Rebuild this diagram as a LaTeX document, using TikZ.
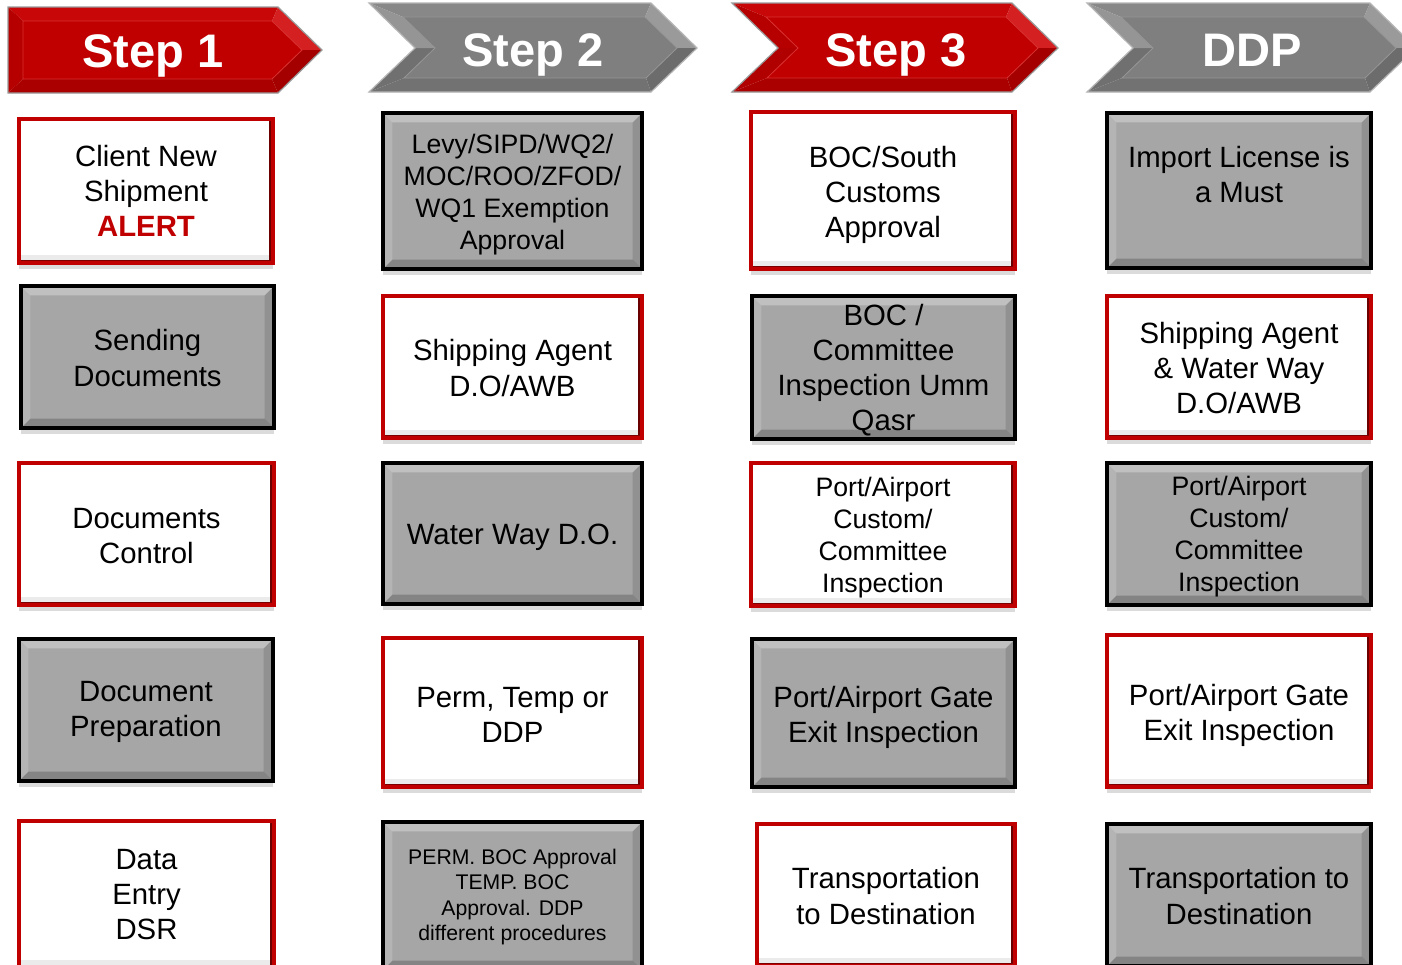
\documentclass[tikz,border=0pt]{standalone}
\usepackage{fontspec}
\setmainfont{Liberation Sans}
\usetikzlibrary{shadows}
\definecolor{boxred}{HTML}{C00000}
\definecolor{boxreddark}{HTML}{6A0000}
\definecolor{boxgray}{HTML}{A6A6A6}
\definecolor{alertred}{HTML}{C00000}
\definecolor{hrMain}{HTML}{C00000}
\definecolor{hrTop}{HTML}{C80808}
\definecolor{hrUR}{HTML}{D42020}
\definecolor{hrLR}{HTML}{A40000}
\definecolor{hrBot}{HTML}{AA0000}
\definecolor{hrLU}{HTML}{B60000}
\definecolor{hrLL}{HTML}{B00000}
\definecolor{hrEdge}{HTML}{D83030}
\definecolor{hrLine}{HTML}{9A9A9A}
\definecolor{hgMain}{HTML}{7F7F7F}
\definecolor{hgTop}{HTML}{888888}
\definecolor{hgUR}{HTML}{9A9A9A}
\definecolor{hgLR}{HTML}{6C6C6C}
\definecolor{hgBot}{HTML}{727272}
\definecolor{hgLU}{HTML}{959595}
\definecolor{hgLL}{HTML}{707070}
\definecolor{hgEdge}{HTML}{959595}
\definecolor{hgLine}{HTML}{B5B5B5}
\tikzset{
  boxbase/.style={rectangle, inner sep=0pt, outer sep=0pt,
    general shadow={fill=black!14, shadow yshift=-4.5pt}},
  redbox/.style={boxbase, fill=white, draw=boxred, line width=3.6pt,
    path picture={
      \fill[boxreddark] ([xshift=-3pt]path picture bounding box.north east) rectangle (path picture bounding box.south east);
      \fill[boxreddark!80!boxred] (path picture bounding box.south west) rectangle ([yshift=2.5pt]path picture bounding box.south east);
      \fill[black,opacity=.08] ([yshift=2.5pt]path picture bounding box.south west) rectangle ([shift={(-3pt,6pt)}]path picture bounding box.south east);
    }},
  graybox/.style={boxbase, fill=boxgray, draw=black, line width=3pt,
    path picture={
      \fill[white,opacity=.3] (path picture bounding box.north west) -- (path picture bounding box.north east) -- ([shift={(-7pt,-7pt)}]path picture bounding box.north east) -- ([shift={(7pt,-7pt)}]path picture bounding box.north west) -- cycle;
      \fill[white,opacity=.16] (path picture bounding box.north west) -- ([shift={(7pt,-7pt)}]path picture bounding box.north west) -- ([shift={(7pt,7pt)}]path picture bounding box.south west) -- (path picture bounding box.south west) -- cycle;
      \fill[black,opacity=.12] (path picture bounding box.north east) -- (path picture bounding box.south east) -- ([shift={(-7pt,7pt)}]path picture bounding box.south east) -- ([shift={(-7pt,-7pt)}]path picture bounding box.north east) -- cycle;
      \fill[black,opacity=.2] (path picture bounding box.south west) -- (path picture bounding box.south east) -- ([shift={(-7pt,7pt)}]path picture bounding box.south east) -- ([shift={(7pt,7pt)}]path picture bounding box.south west) -- cycle;
    }},
  boxtext/.style={inner sep=0pt, align=center, font=\fontsize{22}{26.3}\selectfont, text=black},
  midfont/.style={font=\fontsize{20}{24}\selectfont},
  smallfont/.style={font=\fontsize{15.9}{19.2}\selectfont},
  hdtext/.style={text=white, font=\fontsize{35.3}{40}\selectfont\bfseries, inner sep=0pt, anchor=base},
  dn/.style={yshift=-#1*0.75pt},
}
% name, box style, text style, x1, y1, x2, y2, text
\newcommand\bx[8]{%
  \node[#2, minimum width={(#6-#4-4)*0.75pt}, minimum height={(#7-#5-4)*0.75pt}] (#1) at ({(#4+#6)/2},{(#5+#7)/2}) {};
  \node[boxtext,#3] (#1t) at (#1.center) {#8};}
\newcommand\chevnotch[3]{%
  \fill[#3Top] (#1,3) -- (#2-46,3) -- (#2-52,17) -- (#1+34,17) -- cycle;
  \fill[#3UR] (#2-46,3) -- (#2,48) -- (#2-20,48) -- (#2-52,17) -- cycle;
  \fill[#3LR] (#2,48) -- (#2-46,92) -- (#2-51,78) -- (#2-20,48) -- cycle;
  \fill[#3Bot] (#2-46,92) -- (#1,92) -- (#1+35,78) -- (#2-51,78) -- cycle;
  \fill[#3LL] (#1,92) -- (#1+46,48) -- (#1+66,48) -- (#1+35,78) -- cycle;
  \fill[#3LU] (#1+46,48) -- (#1,3) -- (#1+34,17) -- (#1+66,48) -- cycle;
  \fill[#3Main, draw=#3Edge, line width=0.6pt] (#1+34,17) -- (#2-52,17) -- (#2-20,48) -- (#2-51,78) -- (#1+35,78) -- (#1+66,48) -- cycle;
  \draw[#3Line, line width=0.9pt, line join=miter] (#1,3) -- (#2-46,3) -- (#2,48) -- (#2-46,92) -- (#1,92) -- (#1+46,48) -- cycle;
}
\begin{document}
\begin{tikzpicture}[x=0.75pt,y=-0.75pt]
\useasboundingbox (0,0) rectangle (1402,964);
\clip (0,0) rectangle (1402,964);
\fill[white] (0,0) rectangle (1402,964);

% ---- headers ----
\fill[hrTop] (8,7) -- (278,7) -- (272,21) -- (23,21) -- cycle;
\fill[hrUR] (278,7) -- (322,50) -- (302,50) -- (272,21) -- cycle;
\fill[hrLR] (322,50) -- (278,93) -- (272,79) -- (302,50) -- cycle;
\fill[hrBot] (278,93) -- (8,93) -- (23,79) -- (272,79) -- cycle;
\fill[hrLU] (8,93) -- (8,7) -- (23,21) -- (23,79) -- cycle;
\fill[hrMain, draw=hrEdge, line width=0.6pt] (23,21) -- (272,21) -- (302,50) -- (272,79) -- (23,79) -- cycle;
\draw[hrLine, line width=0.9pt] (8,7) -- (278,7) -- (322,50) -- (278,93) -- (8,93) -- cycle;
\node[hdtext] (h1) at (153,67) {Step 1};

\chevnotch{369}{697}{hg}
\node[hdtext] (h2) at (533,66) {Step 2};
\chevnotch{732}{1058}{hr}
\node[hdtext] (h3) at (896,66) {Step 3};
\chevnotch{1087}{1416}{hg}
\node[hdtext] (h4) at (1252,66) {DDP};

% ---- column 1 ----
\bx{b11}{redbox}{}{17}{117}{275}{265}{Client New\\Shipment\\{\color{alertred}\bfseries ALERT}}
\bx{b12}{graybox}{dn=1}{19}{284}{276}{430}{Sending\\Documents}
\bx{b13}{redbox}{dn=2}{17}{461}{276}{607}{Documents\\Control}
\bx{b14}{graybox}{dn=2}{17}{637}{275}{783}{Document\\Preparation}
\bx{b15}{redbox}{}{17}{819}{276}{970}{Data\\Entry\\DSR}

% ---- column 2 ----
\bx{b21}{graybox}{midfont,dn=4}{381}{111}{644}{271}{Levy/SIPD/WQ2/\\MOC/ROO/ZFOD/\\WQ1 Exemption\\Approval}
\bx{b22}{redbox}{dn=1}{381}{294}{644}{440}{Shipping Agent\\D.O/AWB}
\bx{b23}{graybox}{dn=4}{381}{461}{644}{606}{Water Way D.O.}
\bx{b24}{redbox}{dn=2}{381}{636}{644}{789}{Perm, Temp or\\DDP}
\bx{b25}{graybox}{smallfont,dn=1}{381}{820}{644}{972}{PERM. BOC Approval\\TEMP. BOC\\Approval. DDP\\different procedures}

% ---- column 3 ----
\bx{b31}{redbox}{dn=4}{749}{110}{1017}{271}{BOC/South\\Customs\\Approval}
\bx{b32}{graybox}{dn=3}{750}{294}{1017}{441}{BOC /\\Committee\\Inspection Umm\\Qasr}
\bx{b33}{redbox}{midfont,dn=3}{749}{461}{1017}{608}{Port/Airport\\Custom/\\Committee\\Inspection}
\bx{b34}{graybox}{dn=4}{750}{637}{1017}{789}{Port/Airport Gate\\Exit Inspection}
\bx{b35}{redbox}{dn=1}{755}{822}{1017}{968}{Transportation\\to Destination}

% ---- column 4 ----
\bx{b41}{graybox}{dn=-16}{1105}{111}{1373}{270}{Import License is\\a Must}
\bx{b42}{redbox}{dn=1}{1105}{294}{1373}{440}{Shipping Agent\\\& Water Way\\D.O/AWB}
\bx{b43}{graybox}{midfont,dn=3}{1105}{461}{1373}{607}{Port/Airport\\Custom/\\Committee\\Inspection}
\bx{b44}{redbox}{dn=4}{1105}{633}{1373}{789}{Port/Airport Gate\\Exit Inspection}
\bx{b45}{graybox}{dn=1}{1105}{822}{1373}{968}{Transportation to\\Destination}
\end{tikzpicture}
\end{document}
